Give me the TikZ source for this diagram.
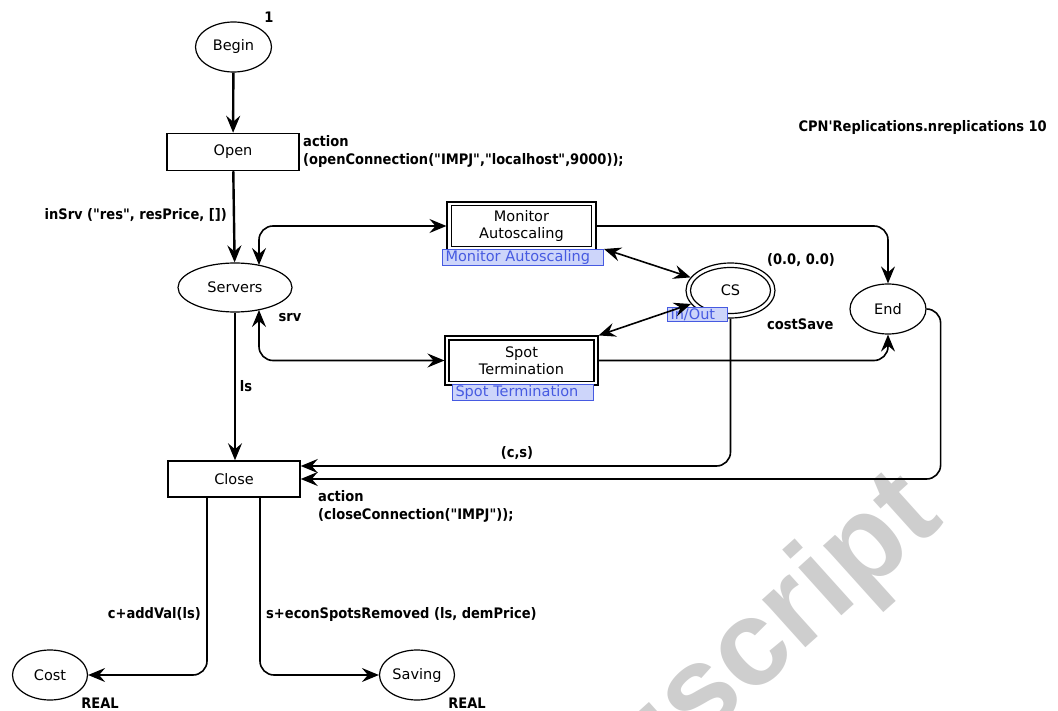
\documentclass[tikz,border=0pt]{standalone}
\usepackage{fontspec}
\setmainfont{DejaVu Sans}
\newfontfamily\markfont{Liberation Sans}
% inscriptions: condensed bold, loaded directly so that ' stays straight
\font\inscfont="[DejaVuSansCondensed-Bold.ttf]" at 14.5pt
\usetikzlibrary{arrows.meta,calc,shapes.geometric}

\definecolor{portblue}{RGB}{70,90,225}
\definecolor{portfill}{RGB}{205,213,250}
\definecolor{markgray}{RGB}{206,206,206}

\tikzset{
  cpnhead/.tip={Stealth[length=17pt,width=14pt,inset=6pt]},
  nodefont/.style={font=\fontsize{14.5}{17}\selectfont},
  place/.style={ellipse, draw, line width=1.2pt, minimum width=76pt,
    minimum height=50pt, inner sep=0pt, nodefont},
  trans/.style={rectangle, draw, line width=1.5pt, minimum width=132pt,
    minimum height=37pt, inner sep=0pt, nodefont},
  subst/.style={rectangle, draw, line width=1.1pt, inner sep=0pt,
    align=center, nodefont},
  inner/.style={line width=1.8pt},
  tag/.style={draw=portblue, fill=portfill, text=portblue, line width=1pt,
    inner xsep=3pt, inner ysep=1pt, align=left, nodefont},
  insc/.style={font={\inscfont\baselineskip=18pt\relax}, inner sep=0pt,
    align=left},
  watermark/.style={font=\markfont\bfseries\fontsize{122}{122}\selectfont,
    text=markgray, inner sep=0pt},
  arc/.style={line width=1.6pt, -cpnhead, rounded corners=14pt},
  biarc/.style={line width=1.6pt, cpnhead-cpnhead, rounded corners=14pt},
  thickarc/.style={arc, line width=2.4pt}
}

\begin{document}
\begin{tikzpicture}[x=1pt,y=-1pt]
\useasboundingbox (0,0) rectangle (1058,711);

% background watermark
\begin{scope}
  \clip (0,0) rectangle (1058,711);
  \node[watermark, anchor=base east, rotate=42] (wm) at (946,522) {Manuscript};
\end{scope}

% places
\node[place] (begin) at (233.5,47) {Begin};
\node[insc] (tok) at (269,17) {1};
\node[place, minimum width=114pt, minimum height=49pt] (servers) at (235,287.5) {Servers};
\node[place] (end) at (888,309) {End};
\node[place, minimum width=75pt] (cost) at (50,675) {Cost};
\node[place, minimum width=75pt] (saving) at (417,675) {Saving};
\node[place, minimum width=89pt, minimum height=55pt] (cs) at (730.5,290.5) {CS};
\draw[line width=1.2pt] (cs.center) ellipse [x radius=40pt, y radius=23pt];
\node[tag, text width=54pt, anchor=north west] (io) at (667,307) {In/Out};

% transitions
\node[trans] (open) at (233,152) {Open};
\node[trans, minimum height=36pt] (close) at (234,479) {Close};

% substitution transitions
\node[subst, minimum width=149pt, minimum height=48pt] (mon) at (521.5,226) {Monitor\\Autoscaling};
\draw[inner] ($(mon.north west)+(5,4)$) rectangle ($(mon.south east)+(-5,-4)$);
\node[tag, text width=155pt, anchor=north west] (mlab) at (442,249) {Monitor Autoscaling};

\node[subst, minimum width=153pt, minimum height=49pt] (spot) at (521.5,360.5) {Spot\\Termination};
\draw[inner] ($(spot.north west)+(4.5,4.5)$) rectangle ($(spot.south east)+(-4.5,-4)$);
\node[tag, text width=135pt, anchor=north west] (slab) at (452,384) {Spot Termination};

% transition and place inscriptions
\node[insc, anchor=west] (openact) at (303,152) {action\\(openConnection("IMPJ","localhost",9000));};
\node[insc, anchor=west] (closeact) at (318,506.5) {action\\(closeConnection("IMPJ"));};
\node[insc, anchor=east] (rep) at (1047,128) {CPN'Replications.nreplications 10};
\node[insc, anchor=west] (init) at (767,260) {(0.0, 0.0)};
\node[insc, anchor=west] (cstype) at (767,324) {costSave};
\node[insc] (real1) at (100,703) {REAL};
\node[insc] (real2) at (467,703) {REAL};

% arcs
\draw[thickarc] (begin) -- (open);
\draw[thickarc] (open) -- (servers);
\node[insc, anchor=east] (a1) at (227,215) {inSrv ("res", resPrice, [])};

\coordinate (svtop) at (259,265);
\coordinate (svbot) at (259,310);
\draw[biarc] (svtop) |- (mon.west);
\draw[biarc] (svbot) |- (spot.west);
\node[insc] (a2) at (290,318) {srv};

\draw[arc] (mon.east) -| (end.north);
\draw[arc] (spot.east) -| (end.south);

\draw[biarc] (mlab.north east) -- (cs);
\draw[biarc] (spot.north east) -- (cs);

\draw[arc] (cs.south) |- ($(close.east)+(0,-13)$);
\node[insc] (a3) at (517,453) {(c,s)};
\draw[arc] (end.east) -- ++(14,0) |- (close.east);

\draw[arc, line width=1.3pt] (servers.south) -- (servers.south |- close.north);
\node[insc] (a4) at (246,386) {ls};

\draw[arc] ($(close.south)+(-27,0)$) |- (cost.east);
\draw[arc] ($(close.south)+(26,0)$) |- (saving.west);
\node[insc, anchor=east] (a5) at (201,614) {c+addVal(ls)};
\node[insc, anchor=west] (a6) at (266,614) {s+econSpotsRemoved (ls, demPrice)};
\end{tikzpicture}
\end{document}
